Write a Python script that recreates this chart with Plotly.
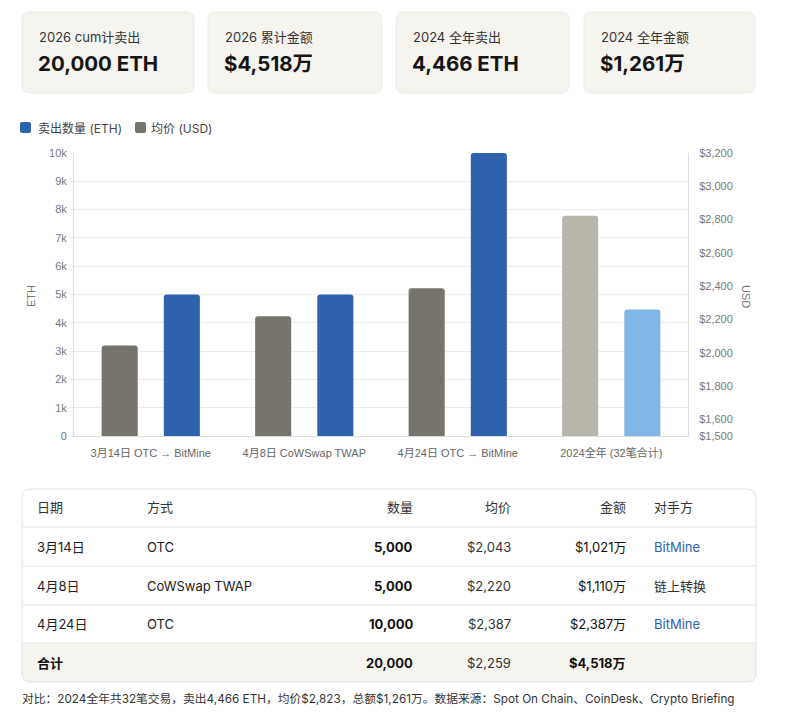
import plotly.graph_objects as go

W, H = 788, 724

# ---------------- data ----------------
kpi_labels = ["2026 cum计卖出", "2026 累计金额", "2024 全年卖出", "2024 全年金额"]
kpi_values = ["20,000 ETH", "$4,518万", "4,466 ETH", "$1,261万"]

categories = ["3月14日 OTC → BitMine", "4月8日 CoWSwap TWAP", "4月24日 OTC → BitMine", "2024全年 (32笔合计)"]
eth_sold = [5000, 5000, 10000, 4466]
avg_price = [2043, 2220, 2387, 2823]

eth_ticks = [0, 1000, 2000, 3000, 4000, 5000, 6000, 7000, 8000, 9000, 10000]
eth_ticktext = ["0", "1k", "2k", "3k", "4k", "5k", "6k", "7k", "8k", "9k", "10k"]
usd_ticks = [1500, 1600, 1800, 2000, 2200, 2400, 2600, 2800, 3000, 3200]
usd_ticktext = ["$1,500", "$1,600", "$1,800", "$2,000", "$2,200", "$2,400", "$2,600", "$2,800", "$3,000", "$3,200"]

table_headers = ["日期", "方式", "数量", "均价", "金额", "对手方"]
t_dates = ["3月14日", "4月8日", "4月24日"]
t_methods = ["OTC", "CoWSwap TWAP", "OTC"]
t_qty = ["5,000", "5,000", "10,000"]
t_price = ["$2,043", "$2,220", "$2,387"]
t_amount = ["$1,021万", "$1,110万", "$2,387万"]
t_party = ["BitMine", "链上转换", "BitMine"]
total_row = ["合计", "", "20,000", "$2,259", "$4,518万", ""]

footnote = "对比：2024全年共32笔交易，卖出4,466 ETH，均价$2,823，总额$1,261万。数据来源：Spot On Chain、CoinDesk、Crypto Briefing"

# ---------------- styles ----------------
FONT = "Inter, 'Noto Sans CJK SC', sans-serif"
TICKFONT = "'Liberation Sans', Arial, 'Noto Sans CJK SC', sans-serif"
BLUE, LBLUE = "#2f62ad", "#80b6e6"
GRAY, LGRAY = "#76746c", "#b8b5aa"
CARD_BG = "#f5f4ef"

def px(x):
    return x / W

def py(y):
    return 1 - y / H

def rrect(x0, y0, x1, y1, r, corners=(True, True, True, True)):
    tl, tr, br, bl = corners
    rx, ry = r / W, r / H
    X0, X1, Y0, Y1 = px(x0), px(x1), py(y0), py(y1)
    p = []
    p.append(f"M{X0 + (rx if tl else 0)},{Y0}")
    if tr:
        p.append(f"L{X1 - rx},{Y0} Q{X1},{Y0} {X1},{Y0 - ry}")
    else:
        p.append(f"L{X1},{Y0}")
    if br:
        p.append(f"L{X1},{Y1 + ry} Q{X1},{Y1} {X1 - rx},{Y1}")
    else:
        p.append(f"L{X1},{Y1}")
    if bl:
        p.append(f"L{X0 + rx},{Y1} Q{X0},{Y1} {X0},{Y1 + ry}")
    else:
        p.append(f"L{X0},{Y1}")
    if tl:
        p.append(f"L{X0},{Y0 - ry} Q{X0},{Y0} {X0 + rx},{Y0}")
    else:
        p.append(f"L{X0},{Y0}")
    p.append("Z")
    return " ".join(p)

fig = go.Figure()

fig.add_trace(go.Bar(
    x=categories, y=eth_sold, name="卖出数量 (ETH)", yaxis="y",
    marker=dict(color=[BLUE, BLUE, BLUE, LBLUE], line=dict(width=0)),
    width=0.235, offset=0.085, showlegend=False,
))
fig.add_trace(go.Bar(
    x=categories, y=avg_price, name="均价 (USD)", yaxis="y2",
    marker=dict(color=[GRAY, GRAY, GRAY, LGRAY], line=dict(width=0)),
    width=0.235, offset=-0.32, showlegend=False,
))

shapes = []
annotations = []

# legend (drawn manually)
shapes.append(dict(type="path", xref="paper", yref="paper",
                   path=rrect(20, 122, 31, 133, 2), fillcolor=BLUE, line=dict(width=0)))
annotations.append(dict(x=px(36), y=py(128), xref="paper", yref="paper", text="卖出数量 (ETH)",
                        showarrow=False, xanchor="left", yanchor="middle",
                        font=dict(family=FONT, size=12, color="#444")))
shapes.append(dict(type="path", xref="paper", yref="paper",
                   path=rrect(135, 122, 146, 133, 2), fillcolor=GRAY, line=dict(width=0)))
annotations.append(dict(x=px(149), y=py(128), xref="paper", yref="paper", text="均价 (USD)",
                        showarrow=False, xanchor="left", yanchor="middle",
                        font=dict(family=FONT, size=12, color="#444")))

# KPI cards
card_x = [(22, 194), (208, 382), (396, 569), (584, 755)]
for (x0, x1), lab, val in zip(card_x, kpi_labels, kpi_values):
    shapes.append(dict(type="path", xref="paper", yref="paper", path=rrect(x0, 12, x1, 93, 8),
                       fillcolor=CARD_BG, line=dict(color="#eeede8", width=1), layer="below"))
    annotations.append(dict(x=px(x0 + 15), y=py(37), xref="paper", yref="paper", text=lab,
                            showarrow=False, xanchor="left", yanchor="middle",
                            font=dict(family=FONT, size=13, color="#333")))
    annotations.append(dict(x=px(x0 + 14), y=py(63), xref="paper", yref="paper", text=f"<b>{val}</b>",
                            showarrow=False, xanchor="left", yanchor="middle",
                            font=dict(family=FONT, size=20.5, color="#151515")))

# axis titles
annotations.append(dict(x=px(31), y=py(296), xref="paper", yref="paper", text="ETH", textangle=-90,
                        showarrow=False, xanchor="center", yanchor="middle",
                        font=dict(family=TICKFONT, size=11, color="#777")))
annotations.append(dict(x=px(746), y=py(296), xref="paper", yref="paper", text="USD", textangle=90,
                        showarrow=False, xanchor="center", yanchor="middle",
                        font=dict(family=TICKFONT, size=11, color="#777")))

# table
TX0, TX1 = 22, 756
row_y = [489, 527, 566, 605, 643, 682]
shapes.append(dict(type="path", xref="paper", yref="paper",
                   path=rrect(TX0, row_y[0], TX1, row_y[-1], 9), fillcolor="white",
                   line=dict(width=0), layer="below"))
shapes.append(dict(type="path", xref="paper", yref="paper",
                   path=rrect(TX0, row_y[4], TX1, row_y[5], 9, (False, False, True, True)),
                   fillcolor=CARD_BG, line=dict(width=0), layer="below"))
shapes.append(dict(type="path", xref="paper", yref="paper",
                   path=rrect(TX0, row_y[0], TX1, row_y[-1], 9), fillcolor="rgba(0,0,0,0)",
                   line=dict(color="#e2e2e2", width=1)))
for yy in row_y[1:5]:
    shapes.append(dict(type="line", xref="paper", yref="paper", x0=px(TX0), x1=px(TX1),
                       y0=py(yy), y1=py(yy), line=dict(color="#e6e6e6", width=1)))

col_x = [35, 145, 415, 513, 628, 652]
col_anchor = ["left", "left", "right", "right", "right", "left"]

def cell(txt, ci, yc, color="#222", bold=False):
    if not txt:
        return
    annotations.append(dict(x=px(col_x[ci]), y=py(yc), xref="paper", yref="paper",
                            text=f"<b>{txt}</b>" if bold else txt, showarrow=False,
                            xanchor=col_anchor[ci], yanchor="middle",
                            font=dict(family=FONT, size=13, color=color)))

for ci, h in enumerate(table_headers):
    cell(h, ci, 507, color="#333")
for ri in range(len(t_dates)):
    yc = (row_y[ri + 1] + row_y[ri + 2]) / 2
    cell(t_dates[ri], 0, yc)
    cell(t_methods[ri], 1, yc)
    cell(t_qty[ri], 2, yc, bold=True, color="#111")
    cell(t_price[ri], 3, yc, color="#333")
    cell(t_amount[ri], 4, yc, color="#111")
    party_color = BLUE if t_party[ri] == "BitMine" else "#333"
    cell(t_party[ri], 5, yc, color=party_color)
yc = (row_y[4] + row_y[5]) / 2
for ci, txt in enumerate(total_row):
    cell(txt, ci, yc, bold=ci in (0, 2, 4), color="#333" if ci == 3 else "#111")

annotations.append(dict(x=px(20), y=py(699), xref="paper", yref="paper", text=footnote,
                        showarrow=False, xanchor="left", yanchor="middle",
                        font=dict(family=FONT, size=11.75, color="#333")))

fig.update_layout(
    width=W, height=H,
    margin=dict(l=0, r=0, t=0, b=0, pad=0, autoexpand=False),
    paper_bgcolor="white", plot_bgcolor="white",
    barmode="overlay",
    barcornerradius=3,
    font=dict(family=FONT),
    showlegend=False,
    xaxis=dict(domain=[px(74), px(688)], showgrid=False, showline=True, linecolor="#dddddd",
               ticks="outside", ticklen=7, tickcolor="rgba(0,0,0,0)", automargin=False,
               tickfont=dict(family=TICKFONT, size=11, color="#666"), fixedrange=True),
    yaxis=dict(domain=[py(436), py(153)], range=[0, 10000], tickvals=eth_ticks, ticktext=eth_ticktext,
               showgrid=True, gridcolor="#ececec", showline=True, linecolor="#dddddd",
               ticks="outside", ticklen=4, tickcolor="#ececec", zeroline=False, automargin=False,
               tickfont=dict(family=TICKFONT, size=11, color="#777")),
    yaxis2=dict(overlaying="y", side="right", range=[1500, 3200], tickvals=usd_ticks,
                ticktext=usd_ticktext, showgrid=False, showline=True, linecolor="#dddddd",
                ticks="outside", ticklen=8, tickcolor="rgba(0,0,0,0)", zeroline=False, automargin=False,
                tickfont=dict(family=TICKFONT, size=11, color="#777")),
    shapes=shapes,
    annotations=annotations,
)

fig.write_html("out.html", config={"displayModeBar": False},
               post_script="document.body.style.margin='0';document.body.style.overflow='hidden';")
